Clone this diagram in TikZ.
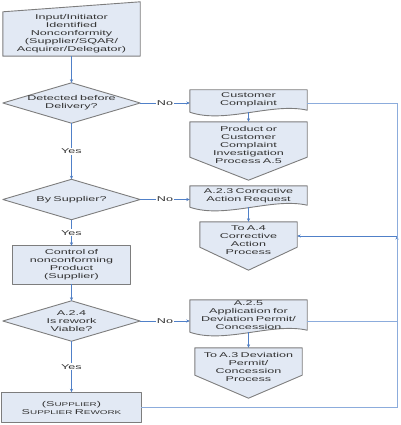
\documentclass[tikz,border=0pt]{standalone}
\usepackage{fontspec}
\setmainfont{Liberation Sans}[FakeStretch=1.8]
\usetikzlibrary{positioning,calc,backgrounds,arrows.meta}

\definecolor{flowfill}{RGB}{226,233,244}
\definecolor{flowedge}{RGB}{125,125,125}
\definecolor{flowblue}{RGB}{80,128,200}
\definecolor{wireblue}{RGB}{140,172,220}

\newcommand{\smcap}[2]{#1{\fontsize{5.5}{8}\selectfont #2}}

\tikzset{
	flowtext/.style={inner sep=0pt, align=center, font=\fontsize{7}{8}\selectfont, text=black!80},
	shapeline/.style={fill=flowfill, draw=flowedge, line width=0.9pt, line join=round},
	link/.style={draw=flowblue, line width=0.7pt, -{Stealth[length=3.5pt,width=3pt]}},
	wire/.style={draw=wireblue, line width=0.7pt},
	yesno/.style={fill=white, inner sep=1pt, font=\fontsize{7}{8}\selectfont, text=black!80}
}

\begin{document}
\begin{tikzpicture}[x=1pt,y=-1pt,node distance=2cm,on grid]
	\useasboundingbox (0,0) rectangle (400,425);

	% left column
	\node[flowtext, minimum width=137pt, minimum height=44pt, text width=130pt]	(input)	at (71.5,34)	{Input/Initiator\\Identified\\Nonconformity\\(Supplier/SQAR/\\Acquirer/Delegator)};
	\node[flowtext, minimum width=137pt, minimum height=40pt, text width=120pt]	(d1)	[below=69pt of input]	{Detected before\\Delivery?};
	\node[flowtext, minimum width=137pt, minimum height=40pt, text width=120pt]	(d2)	[below=96.5pt of d1]	{By Supplier?};
	\node[flowtext, minimum width=117pt, minimum height=38pt, text width=110pt]	(ctrl)	[below=65.5pt of d2]	{Control of\\nonconforming\\Product\\(Supplier)};
	\node[flowtext, minimum width=137pt, minimum height=40pt, text width=120pt]	(d3)	[below=56pt of ctrl]	{A.2.4\\Is rework\\Viable?};
	\node[flowtext, minimum width=139pt, minimum height=30pt, text width=130pt]	(rework)	[below=86.5pt of d3]	{(\smcap{S}{UPPLIER})\\\smcap{S}{UPPLIER} \smcap{R}{EWORK}};

	% right column
	\node[flowtext, minimum width=117pt, minimum height=20pt, text width=110pt]	(cc)	at (248.5,100)	{Customer\\Complaint};
	\node[flowtext, minimum width=117pt, minimum height=46pt, text width=110pt]	(pi)	[below=45pt of cc]	{Product or\\Customer\\Complaint\\Investigation\\Process A.5};
	\node[flowtext, minimum width=117pt, minimum height=19pt, text width=110pt]	(car)	[below=50.5pt of pi]	{A.2.3 Corrective\\Action Request};
	\node[flowtext, minimum width=97pt, minimum height=36pt, text width=92pt]	(toA4)	[below=44.5pt of car]	{To A.4\\Corrective\\Action\\Process};
	\node[flowtext, minimum width=117pt, minimum height=30pt, text width=110pt]	(app)	[below=75pt of toA4]	{A.2.5\\Application for\\Deviation Permit/\\Concession};
	\node[flowtext, minimum width=107pt, minimum height=38pt, text width=102pt]	(toA3)	[below=52pt of app]	{To A.3 Deviation\\Permit/\\Concession\\Process};

	\coordinate (bus) at (397,0);
	\coordinate (a4in) at ([yshift=4pt]toA4.east);

	% outlines behind the texts
	\begin{scope}[on background layer]
		\path[shapeline] (input.south west) -- (input.north west) -- ([yshift=10pt]input.north east) -- (input.south east) -- cycle;
		\foreach \d in {d1,d2,d3}
			\path[shapeline] (\d.north) -- (\d.east) -- (\d.south) -- (\d.west) -- cycle;
		\foreach \p in {ctrl,rework}
			\path[shapeline] (\p.south west) rectangle (\p.north east);
		\foreach \p in {cc,car,app}
			\path[shapeline] (\p.north west) -- (\p.north east) -- (\p.south east)
				.. controls ($(\p.south east)+(-35,-8)$) and ($(\p.south west)+(35,14)$) .. ([yshift=-2pt]\p.south west) -- cycle;
		\foreach \p in {pi,toA4,toA3}
			\path[shapeline] (\p.north west) -- (\p.north east) -- ([yshift=11pt]\p.south east) -- ([yshift=-12pt]\p.south) -- ([yshift=11pt]\p.south west) -- cycle;
	\end{scope}

	\path[link]
		(input)	edge	(d1)
		(d1.east)	edge	node[yesno]	{No}	(d1.east -| cc.west)
		([yshift=-2pt]cc.south)	edge	(pi)
		(d1)	edge	node[yesno]	{Yes}	(d2)
		(d2.east)	edge	node[yesno]	{No}	(d2.east -| car.west)
		([yshift=-2pt]car.south)	edge	(toA4)
		(d2)	edge	node[yesno]	{Yes}	(ctrl)
		(ctrl)	edge	(d3)
		(d3.east)	edge	node[yesno]	{No}	(d3.east -| app.west)
		([yshift=-2pt]app.south)	edge	(toA3)
		(d3)	edge	node[yesno]	{Yes}	(rework)
		(a4in -| bus)	edge	(a4in)
		;
	\draw[wire] (d1.east -| cc.east) -- (d1.east -| bus) -- (rework.east -| bus) -- (rework.east);
	\draw[wire] (d3.east -| app.east) -- (d3.east -| bus);
\end{tikzpicture}
\end{document}
